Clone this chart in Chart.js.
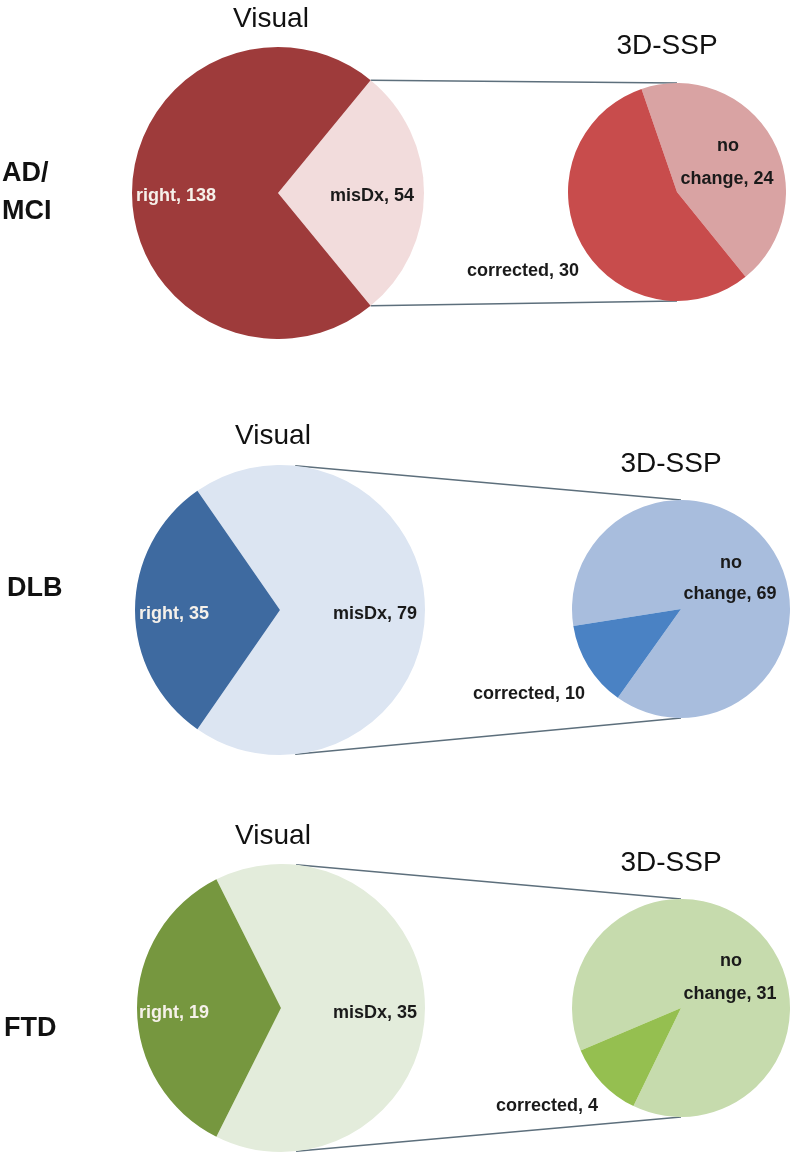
<!DOCTYPE html>
<html>
<head>
<meta charset="utf-8">
<script src="https://cdn.jsdelivr.net/npm/chart.js@4.4.1/dist/chart.umd.min.js"></script>
<style>
  html, body { margin: 0; padding: 0; background: #fff; }
  #page { position: relative; width: 800px; height: 1156px; overflow: hidden; font-family: 'Liberation Sans', Arial, sans-serif; }
  #lines { position: absolute; left: 0; top: 0; z-index: 0; }
  .pie { position: absolute; z-index: 1; }
  .txt { position: absolute; z-index: 2; transform: translate(-50%, -50%); white-space: nowrap; line-height: 1; }
  .title { font-size: 28px; color: #111; }
  .lab { font-size: 18px; font-weight: bold; color: #1a1a1a; }
  .lab.light { color: #f6f1ea; }
  .group { position: absolute; z-index: 2; font-size: 27px; font-weight: bold; color: #111; line-height: 38px; white-space: pre; transform: translateY(-50%); }
</style>
</head>
<body>
<div id="page">
  <canvas id="lines" width="800" height="1156"></canvas>
</div>
<script>
// Data
const groups = ['AD/\nMCI', 'DLB', 'FTD'];
const visualLabels = ['misDx', 'right'];
const misDx = [54, 79, 35];
const right = [138, 35, 19];
const sspLabels = ['no change', 'corrected'];
const noChange = [24, 69, 31];
const corrected = [30, 10, 4];

// Colours per row: [misDx, right] and [no change, corrected]
const visualColors = [
    ['#f2dcdc', '#9e3b3b'],
    ['#dce5f2', '#3e6aa0'],
    ['#e3ecdb', '#76973f']
];
const sspColors = [
    ['#d9a3a3', '#c84c4c'],
    ['#a8bddd', '#4a82c4'],
    ['#c6dbad', '#95bf50']
];

// Layout of each row (pixel positions on the page)
const layout = [
    {
        group: { x: 2, y: 191 },
        visual: { cx: 278, cy: 193, r: 146 }, ssp: { cx: 677, cy: 192, r: 109, rotation: -19 },
        visualTitle: [271, 18], sspTitle: [667, 45],
        rightLab: [176, 195], misLab: [372, 195],
        noLab: [728, 145], changeLab: [727, 178], corrLab: [523, 270]
    },
    {
        group: { x: 7, y: 587 },
        visual: { cx: 280, cy: 610, r: 145 }, ssp: { cx: 681, cy: 609, r: 109, rotation: -99 },
        visualTitle: [273, 435], sspTitle: [671, 463],
        rightLab: [174, 613], misLab: [375, 613],
        noLab: [731, 562], changeLab: [730, 593], corrLab: [529, 693]
    },
    {
        group: { x: 4, y: 1027 },
        visual: { cx: 281, cy: 1008, r: 144 }, ssp: { cx: 681, cy: 1008, r: 109, rotation: -113 },
        visualTitle: [273, 835], sspTitle: [671, 862],
        rightLab: [174, 1012], misLab: [375, 1012],
        noLab: [731, 960], changeLab: [730, 993], corrLab: [547, 1105]
    }
];

const page = document.getElementById('page');

function addText(cls, text, pos) {
    const d = document.createElement('div');
    d.className = 'txt ' + cls;
    d.textContent = text;
    d.style.left = pos[0] + 'px';
    d.style.top = pos[1] + 'px';
    page.appendChild(d);
}

function makePie(spec, labels, values, colors, rotation) {
    const box = document.createElement('div');
    box.className = 'pie';
    box.style.left = (spec.cx - spec.r) + 'px';
    box.style.top = (spec.cy - spec.r) + 'px';
    box.style.width = (spec.r * 2) + 'px';
    box.style.height = (spec.r * 2) + 'px';
    const cv = document.createElement('canvas');
    box.appendChild(cv);
    page.appendChild(box);
    const chart = new Chart(cv, {
        type: 'pie',
        data: {
            labels: labels,
            datasets: [{
                data: values,
                backgroundColor: colors,
                borderWidth: 0
            }]
        },
        options: {
            responsive: true,
            maintainAspectRatio: false,
            animation: false,
            rotation: rotation,
            layout: { padding: 0 },
            plugins: {
                legend: { display: false },
                tooltip: { enabled: false }
            }
        }
    });
    return { chart: chart, left: spec.cx - spec.r, top: spec.cy - spec.r };
}

const ctxLines = document.getElementById('lines').getContext('2d');
ctxLines.strokeStyle = '#5d6f7c';
ctxLines.lineWidth = 1.5;

groups.forEach(function (g, i) {
    const L = layout[i];

    // group name on the left
    const gd = document.createElement('div');
    gd.className = 'group';
    gd.textContent = g;
    gd.style.left = L.group.x + 'px';
    gd.style.top = L.group.y + 'px';
    page.appendChild(gd);

    // Visual pie: misDx slice centred on the right side
    const total = misDx[i] + right[i];
    const visRot = 90 - (misDx[i] / total) * 180;
    const vis = makePie(L.visual, visualLabels, [misDx[i], right[i]], visualColors[i], visRot);
    const ssp = makePie(L.ssp, sspLabels, [noChange[i], corrected[i]], sspColors[i], L.ssp.rotation);

    // connector lines: from the misDx slice edge (near the top/bottom) to the top/bottom of the 3D-SSP pie
    const misArc = vis.chart.getDatasetMeta(0).data[0];
    const sArc = ssp.chart.getDatasetMeta(0).data[0];
    const topAng = Math.max(misArc.startAngle, -84 * Math.PI / 180);
    const botAng = Math.min(misArc.endAngle, 84 * Math.PI / 180);
    const vx = vis.left + misArc.x, vy = vis.top + misArc.y, vr = misArc.outerRadius;
    const sx = ssp.left + sArc.x, sy = ssp.top + sArc.y, sr = sArc.outerRadius;
    ctxLines.beginPath();
    ctxLines.moveTo(vx + vr * Math.cos(topAng), vy + vr * Math.sin(topAng));
    ctxLines.lineTo(sx, sy - sr);
    ctxLines.moveTo(vx + vr * Math.cos(botAng), vy + vr * Math.sin(botAng));
    ctxLines.lineTo(sx, sy + sr);
    ctxLines.stroke();

    // titles and slice labels
    addText('title', 'Visual', L.visualTitle);
    addText('title', '3D-SSP', L.sspTitle);
    addText('lab light', visualLabels[1] + ', ' + right[i], L.rightLab);
    addText('lab', visualLabels[0] + ', ' + misDx[i], L.misLab);
    const nc = sspLabels[0].split(' ');
    addText('lab', nc[0], L.noLab);
    addText('lab', nc.slice(1).join(' ') + ', ' + noChange[i], L.changeLab);
    addText('lab', sspLabels[1] + ', ' + corrected[i], L.corrLab);
});
</script>
</body>
</html>
